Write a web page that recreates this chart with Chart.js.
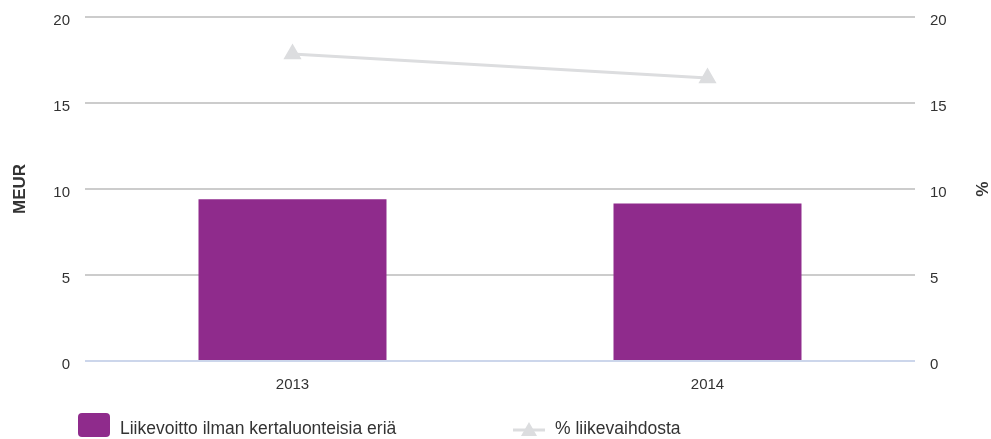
<!DOCTYPE html>
<html>
<head>
<meta charset="utf-8">
<script src="https://cdn.jsdelivr.net/npm/chart.js@4/dist/chart.umd.min.js"></script>
<style>
  html, body { margin: 0; padding: 0; background: #fff; }
  #wrap { position: relative; width: 991px; height: 439px; font-family: "Liberation Sans", Arial, sans-serif; }
  #legend { position: absolute; top: 413px; left: 0; width: 991px; height: 26px; color: #333; font-size: 17.5px; }
  .item { position: absolute; top: 0; height: 26px; }
  .item span { position: absolute; top: 5px; white-space: nowrap; }
  .swatch { position: absolute; top: 0; left: 0; width: 32px; height: 24px; border-radius: 4px; background: #8f2b8c; }
  .lineSym { position: absolute; top: 6px; left: 0; width: 32px; height: 20px; }
</style>
</head>
<body>
<div id="wrap">
  <canvas id="chart" width="991" height="439"></canvas>
  <div id="legend">
    <div class="item" style="left:78px"><div class="swatch"></div><span style="left:42px">Liikevoitto ilman kertaluonteisia eriä</span></div>
    <div class="item" style="left:513px"><canvas class="lineSym" id="lineSym" width="32" height="20"></canvas><span style="left:42px">% liikevaihdosta</span></div>
  </div>
</div>
<script>
// chart data
const years = ['2013', '2014'];
const operatingProfit = [9.4, 9.15];   // MEUR
const percentOfSales = [17.85, 16.45];  // %
const tickValues = [0, 5, 10, 15, 20];

const barColor = '#8f2b8c';
const lineColor = '#dcdddf';
const textColor = '#333333';
const fontFamily = '"Liberation Sans", Arial, sans-serif';

// small legend symbol for the line series
const sym = document.getElementById('lineSym').getContext('2d');
sym.strokeStyle = lineColor;
sym.lineWidth = 3;
sym.beginPath(); sym.moveTo(0, 11); sym.lineTo(32, 11); sym.stroke();
sym.fillStyle = lineColor;
sym.beginPath(); sym.moveTo(16, 3); sym.lineTo(24, 17); sym.lineTo(8, 17); sym.closePath(); sym.fill();

function yAxis(position, title, titlePad, width) {
  return {
    type: 'linear',
    position: position,
    min: 0,
    max: 20,
    afterBuildTicks: axis => { axis.ticks = tickValues.map(v => ({ value: v })); },
    afterFit: axis => {
      axis.width = width;
      axis.paddingTop = 0;
      axis.paddingBottom = 0;
    },
    border: { display: false },
    grid: {
      display: position === 'left',
      drawTicks: false,
      lineWidth: 2,
      color: ctx => ctx.tick && ctx.tick.value === 0 ? '#ccd6eb' : '#cccccc'
    },
    ticks: { padding: 15, labelOffset: 4, color: textColor, font: { family: fontFamily, size: 15 } },
    title: {
      display: true,
      text: title,
      color: textColor,
      padding: { top: titlePad, bottom: 0 },
      font: { family: fontFamily, size: 17, weight: 'bold' }
    }
  };
}

new Chart(document.getElementById('chart'), {
  data: {
    labels: years,
    datasets: [
      {
        type: 'line',
        label: '% liikevaihdosta',
        data: percentOfSales,
        yAxisID: 'y1',
        borderColor: lineColor,
        backgroundColor: lineColor,
        borderWidth: 3,
        pointStyle: 'triangle',
        pointRadius: 7.5,
        pointHoverRadius: 7.5,
        order: 0
      },
      {
        type: 'bar',
        label: 'Liikevoitto ilman kertaluonteisia eriä',
        data: operatingProfit,
        yAxisID: 'y',
        backgroundColor: barColor,
        categoryPercentage: 1,
        barPercentage: 0.453,
        order: 1
      }
    ]
  },
  options: {
    responsive: false,
    animation: false,
    layout: { padding: { top: 17, bottom: 38, left: 0, right: 0 } },
    plugins: { legend: { display: false }, tooltip: { enabled: false } },
    scales: {
      x: {
        grid: { display: false },
        border: { display: false },
        afterFit: axis => { axis.height = 40; },
        ticks: { padding: 7, color: textColor, font: { family: fontFamily, size: 15 } }
      },
      y: yAxis('left', 'MEUR', 10, 85),
      y1: yAxis('right', '%', 0, 76)
    }
  }
});
</script>
</body>
</html>
